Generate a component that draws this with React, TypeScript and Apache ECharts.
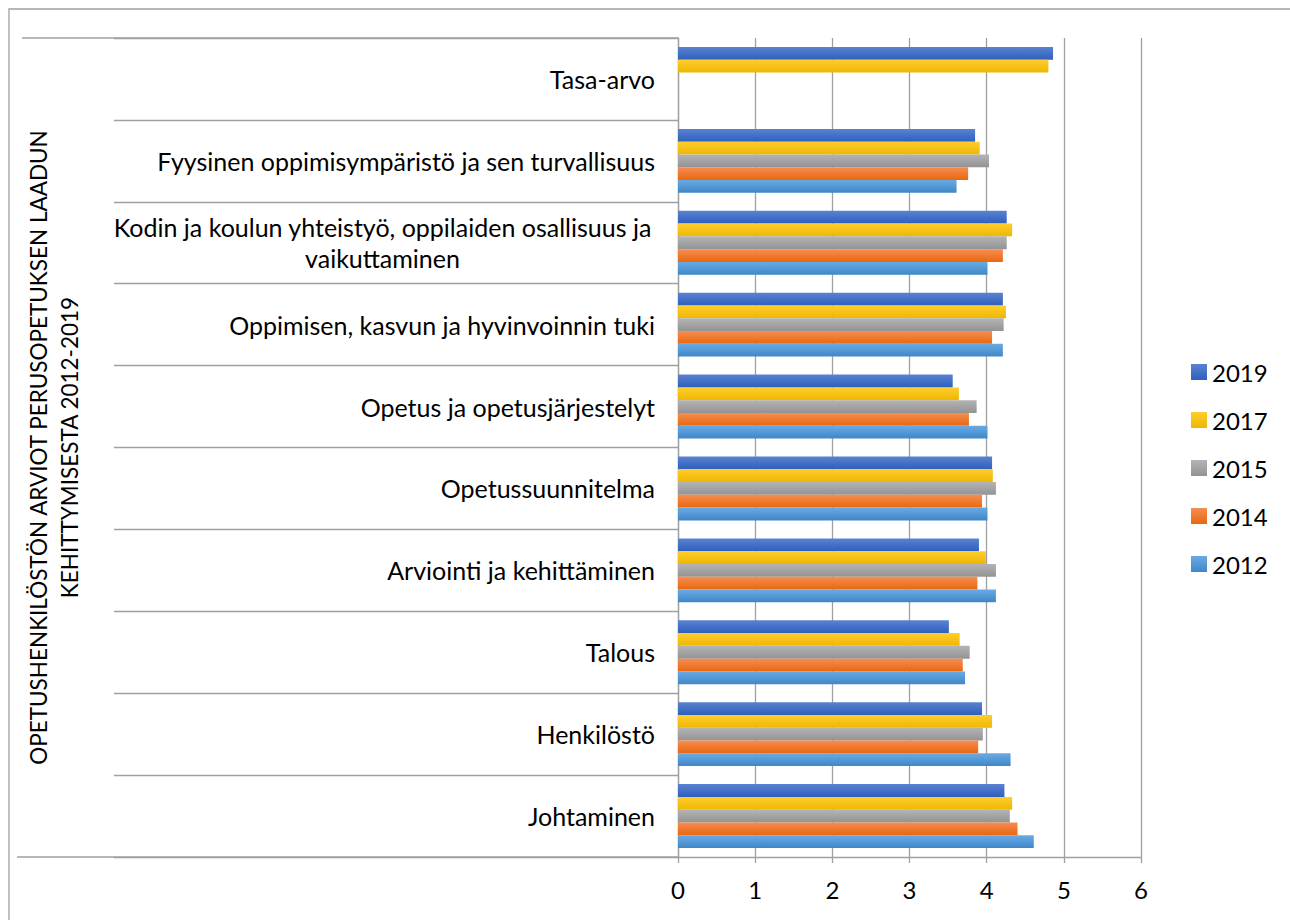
import React, { useEffect, useRef } from "react";
import * as echarts from "echarts";

const categories = [
  "Johtaminen",
  "Henkilöstö",
  "Talous",
  "Arviointi ja kehittäminen",
  "Opetussuunnitelma",
  "Opetus ja opetusjärjestelyt",
  "Oppimisen, kasvun ja hyvinvoinnin tuki",
  "Kodin ja koulun yhteistyö, oppilaiden osallisuus ja\nvaikuttaminen",
  "Fyysinen oppimisympäristö ja sen turvallisuus",
  "Tasa-arvo",
];

// series order: first series is drawn at the top of each category band
const years = ["2019", "2017", "2015", "2014", "2012"];

const v2012 = [4.61, 4.31, 3.72, 4.12, 4.01, 4.01, 4.21, 4.01, 3.61, null];
const v2014 = [4.40, 3.89, 3.69, 3.88, 3.94, 3.77, 4.07, 4.21, 3.76, null];
const v2015 = [4.30, 3.95, 3.78, 4.12, 4.12, 3.87, 4.22, 4.26, 4.03, null];
const v2017 = [4.33, 4.07, 3.65, 3.99, 4.08, 3.64, 4.25, 4.33, 3.91, 4.80];
const v2019 = [4.23, 3.94, 3.51, 3.90, 4.07, 3.56, 4.21, 4.26, 3.85, 4.86];

const xTicks = [0, 1, 2, 3, 4, 5, 6];

const axisTitle = "OPETUSHENKILÖSTÖN ARVIOT PERUSOPETUKSEN LAADUN\nKEHITTYMISESTA 2012-2019";

const colorStops: Record<string, [string, string]> = {
  "2012": ["#6aaae3", "#3f87c9"],
  "2014": ["#f68d52", "#e8680f"],
  "2015": ["#b4b4b4", "#939393"],
  "2017": ["#ffcd2e", "#efb700"],
  "2019": ["#5b82d1", "#2d60bd"],
};

const FONT = "Lato";

export default function App() {
  const ref = useRef<HTMLDivElement>(null);
  useEffect(() => {
    if (!ref.current) return;
    const chart = echarts.init(ref.current, null, { renderer: "svg" });
    const valuesByYear: Record<string, (number | null)[]> = {
      "2012": v2012,
      "2014": v2014,
      "2015": v2015,
      "2017": v2017,
      "2019": v2019,
    };
    const grad = (y: string) =>
      new echarts.graphic.LinearGradient(0, 0, 0, 1, [
        { offset: 0, color: colorStops[y][0] },
        { offset: 1, color: colorStops[y][1] },
      ]);
    chart.setOption({
      animation: false,
      backgroundColor: "#ffffff",
      textStyle: { fontFamily: FONT },
      grid: { left: 678, right: 149, top: 38, bottom: 63, outerBoundsMode: "none", containLabel: false },
      legend: {
        orient: "vertical",
        left: 1191,
        top: 360,
        padding: 0,
        itemWidth: 16,
        itemHeight: 16,
        itemGap: 24,
        icon: "rect",
        data: ["2019", "2017", "2015", "2014", "2012"],
        textStyle: { fontSize: 24, lineHeight: 24, color: "#000", fontFamily: FONT },
      },
      xAxis: {
        type: "value",
        min: xTicks[0],
        max: xTicks[xTicks.length - 1],
        interval: 1,
        axisLine: { show: true, lineStyle: { color: "#a0a0a0", width: 1.3 } },
        axisTick: { show: true, length: 6, lineStyle: { color: "#a0a0a0", width: 1.3 } },
        splitLine: { show: true, lineStyle: { color: "#a0a0a0", width: 1.3 } },
        axisLabel: { fontSize: 24, color: "#000", margin: 20, fontFamily: FONT },
      },
      yAxis: {
        type: "category",
        data: categories,
        axisLine: { show: true, lineStyle: { color: "#a0a0a0", width: 1.3 } },
        axisTick: { show: true, length: 564, lineStyle: { color: "#a0a0a0", width: 1.3 } },
        axisLabel: {
          fontSize: 25,
          color: "#000",
          margin: 23,
          fontFamily: FONT,
          lineHeight: 31,
          formatter: (v: string) =>
            v.indexOf("\n") >= 0
              ? v
                  .split("\n")
                  .map((s) => "{c|" + s + "}")
                  .join("\n")
              : v,
          rich: {
            c: { width: 545, align: "center", fontSize: 25, lineHeight: 31, color: "#000", fontFamily: FONT },
          },
        },
        name: axisTitle,
        nameLocation: "middle",
        nameRotate: 90,
        nameGap: 593,
        nameTextStyle: { fontSize: 22.5, lineHeight: 31, color: "#000", fontFamily: FONT, align: "center" },
      },
      graphic: [
        {
          type: "rect",
          shape: { x: 9, y: 9, width: 1290, height: 920 },
          style: { fill: "none", stroke: "#a0a0a0", lineWidth: 1.3 },
          silent: true,
        },
        {
          type: "line",
          shape: { x1: 22, y1: 38, x2: 678, y2: 38 },
          style: { stroke: "#a0a0a0", lineWidth: 1.3 },
          silent: true,
        },
        {
          type: "line",
          shape: { x1: 17, y1: 857, x2: 678, y2: 857 },
          style: { stroke: "#a0a0a0", lineWidth: 1.3 },
          silent: true,
        },
      ],
      series: years.map((y) => ({
        name: y,
        type: "bar",
        data: valuesByYear[y],
        barGap: "0%",
        barCategoryGap: "22%",
        itemStyle: { color: grad(y) },
      })),
    });
    return () => chart.dispose();
  }, []);
  return (
    <div
      ref={ref}
      style={{ position: "absolute", left: 0, top: 0, width: 1290, height: 920 }}
    />
  );
}
